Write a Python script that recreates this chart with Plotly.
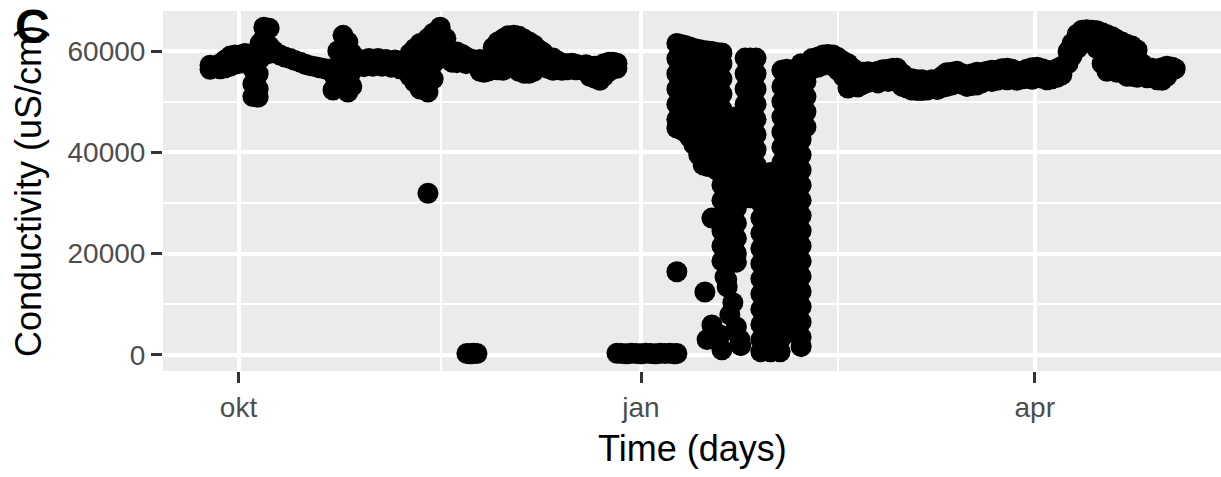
import pandas as pd
import plotly.graph_objects as go

ORIGIN = pd.Timestamp("2019-01-01")  # day 0

# ---------------- data (days relative to 1 Jan 2019, conductivity uS/cm) ----------------
autumn_days = [-98.5, -97.4, -96.2, -95.1, -93.9, -92.8, -91.7, -90.5, -89.4, -88.7, -87.5, -87.1,
               -86.2, -85.0, -83.9, -82.5, -81.4, -80.2, -79.1, -77.9, -76.8, -75.7, -74.5, -73.4,
               -72.2, -71.1, -70.4, -69.3, -68.1, -67.0, -66.1, -65.2, -64.2, -63.3, -62.2, -61.3,
               -60.1, -59.2, -58.3, -57.1, -56.2, -55.1, -54.2, -52.8, -51.7, -50.5, -48.7, -47.5,
               -45.9, -44.6, -43.2, -42.1, -40.9, -40.0, -38.9, -37.9, -36.8, -35.9, -35.0, -33.8,
               -32.7, -31.5, -30.4, -29.0, -27.9, -26.7, -25.6, -24.5, -23.3, -22.4, -21.3, -20.1,
               -19.0, -18.1, -16.9, -15.8, -14.9, -13.7, -12.6, -11.7, -10.5, -9.4, -8.5, -7.3,
               -6.4, -5.5]
autumn_vals = [[57200, 56400], [56800], [57500, 56500], [58200, 56700], [59000, 57000], [59200, 57400],
               [59200, 57600], [59500, 57800], [58500, 57500], [56500, 53500, 51000],
               [59000, 55500, 52500, 50900], [61500, 58500], [64700, 62500], [64500, 61000, 59500],
               [60000], [59200], [58800], [58500], [58100], [57800], [57400], [57100], [56900],
               [56700], [56500], [56400], [52300, 55500], [60000, 56500, 53500], [63100, 60500, 57500],
               [61800, 58000, 54000, 51900], [59500, 56000, 53000], [57200], [58300], [56900], [58500],
               [57000], [58500], [57000], [58300], [56800], [58200], [56500], [57600], [59500, 55000],
               [60500, 57000, 53800], [61500, 58000, 54500, 52500], [62500, 59000, 55000, 51900, 31900],
               [63500, 60500, 57500, 54500], [64700, 61500, 58500], [62500, 59500], [59500, 57800],
               [59800, 57700], [59300], [58800, 57500], [58400], [57600], [58300, 56000], [55800],
               [57200, 56000], [60700, 58000], [61800, 58500, 56300], [62400, 59500, 56200],
               [63000, 60000, 57000], [63100, 60000], [62900, 59000, 56000], [62300, 59000, 55600],
               [61800, 58500, 55600], [61200, 58000, 56000], [60200, 57500], [59700, 57000],
               [58400, 56600], [58600, 56200], [58000], [57600, 56200], [57500, 56300], [57600],
               [57400, 56300], [56800], [57300, 56000], [57000, 55000], [57000, 54600], [56600, 54200],
               [57500, 55000], [57800, 56000], [57800], [57600, 56600]]

zero_days = [-39.8, -39.0, -38.3, -37.5, -5.5, -4.4, -3.3, -2.2, -1.1, 0.0, 1.1, 2.2, 3.3, 4.4,
             5.5, 6.6, 7.7, 8.2]
zero_vals = [[250], [200], [300], [250], [300], [250], [200], [300], [250], [200], [300], [250],
             [200], [300], [250], [300], [200], [250]]

winter_days = [8.2, 9.1, 10.1, 11.1, 12.1, 13.2, 14.2, 14.6, 15.1, 15.2, 16.2, 17.3, 18.1, 18.5,
               19.2, 19.6, 19.7, 20.3, 20.7, 21.0, 21.8, 22.6, 22.8, 23.8, 25.0, 26.3, 27.4, 28.5,
               29.6, 30.7, 31.8, 32.2, 33.3, 34.4, 35.5, 36.6, 37.7]
winter_vals = [
    [61500, 58500, 55500, 52500, 49500, 46500, 44800, 16400],
    [61300, 58000, 55000, 52000, 49000, 46000, 44500],
    [61100, 58500, 55500, 52500, 49500, 46500, 44000],
    [60800, 57500, 54500, 51500, 48500, 45500, 43000],
    [60500, 58000, 55000, 52000, 49000, 46000, 43000, 41500],
    [60300, 57000, 54000, 51000, 48000, 45000, 42000, 39500],
    [60100, 58500, 55500, 52500, 49500, 46500, 43500, 40500, 37500],
    [12400],
    [3000],
    [60000, 57000, 54000, 51000, 48000, 45000, 42000, 39000, 37200],
    [59900, 58500, 55500, 52500, 49500, 46500, 43500, 40500, 37300, 27000, 5900],
    [59700, 57000, 54000, 51000, 48000, 45000, 42000, 39000, 36500],
    [3900],
    [59600, 57500, 54500, 51500, 48500, 45500, 42500, 39500, 36500, 33500, 30500, 27500, 24500,
     21500, 18500, 1000],
    [15400],
    [47000, 44000, 41000, 38000, 35000, 32000, 29000, 26000, 23000, 20000, 18300, 14800],
    [13400],
    [7900],
    [45500, 42500, 39500, 36500, 33500, 30500, 27500, 24500, 21500, 18500],
    [10300],
    [47000, 44000, 41000, 38000, 35000, 32000, 29000, 26000, 23000, 20000, 18300, 5500],
    [3000],
    [45500, 42500, 39500, 36500, 33500, 31000, 1800],
    [58600, 55500, 52500, 49500, 46500, 43500, 40500, 37500, 34500, 32000],
    [58600, 57000, 54000, 51000, 48000, 45000, 42000, 39000, 36000, 33000, 31000],
    [58600, 55500, 52500, 49500, 46500, 43500, 40500, 37500, 34500, 32000],
    [36000, 33000, 30000, 27000, 24000, 21000, 18000, 15000, 12000, 9000, 6000, 3000, 600],
    [34500, 31500, 28500, 25500, 22500, 19500, 16500, 13500, 10500, 7500, 4500, 1500],
    [36000, 33000, 30000, 27000, 24000, 21000, 18000, 15000, 12000, 9000, 6000, 3000, 600],
    [34500, 31500, 28500, 25500, 22500, 19500, 16500, 13500, 10500, 7500, 4500, 1500],
    [36000, 33000, 30000, 27000, 24000, 21000, 18000, 15000, 12000, 9000, 6000, 3000, 600],
    [56200, 53000, 50000, 47000, 44000, 41000, 38000, 35000, 32000, 29000, 26000, 23000, 20000,
     17000, 14000, 11000, 8000, 5000],
    [56400, 54500, 51500, 48500, 45500, 42500, 39500, 36500, 33500, 30500, 27500, 24500, 21500,
     18500, 15500, 12500, 9500, 6500, 4300],
    [56000, 53000, 50000, 47000, 44000, 41000, 38000, 35000, 32000, 29000, 26000, 23000, 20000,
     17000, 14000, 11000, 8000, 5000],
    [56400, 54500, 51500, 48500, 45500, 42500, 39500, 36500, 33500, 30500, 27500, 24500, 21500,
     18500, 15500, 12500, 9500, 6500, 4300],
    [57500, 54500, 51500, 48500, 45500, 42500, 39500, 36500, 33500, 30500, 27500, 24500, 21500,
     18500, 15500, 12500, 9500, 6500, 3500, 1600],
    [57500, 54000, 51000, 48000, 45000],
]

spring_days = [39.1, 40.5, 41.6, 42.7, 43.9, 45.0, 46.2, 47.3, 48.5, 49.6, 50.7, 51.9, 53.0, 54.2,
               55.3, 56.5, 57.6, 58.5, 59.7, 60.8, 61.9, 63.1, 64.2, 65.4, 66.5, 67.7, 68.8, 69.9,
               71.1, 72.2, 73.4, 74.5, 75.7, 76.8, 77.9, 79.1, 80.2, 81.4, 82.5, 83.7, 84.8, 85.9,
               87.1, 88.2, 89.4, 90.5, 91.7, 92.8, 93.9, 95.1, 96.2, 97.6, 98.5, 99.7, 100.8, 101.9,
               103.1, 104.2, 105.4, 106.5, 107.7, 108.8, 109.9, 111.1, 112.2, 113.4, 114.5, 115.7,
               116.8, 118.0, 119.1, 120.2, 121.4, 122.1]
spring_vals = [[58500, 56500], [58800, 56800], [59200, 57200], [59300, 57500], [59200, 57000],
               [58700, 56200], [58000, 55000], [57500, 53600, 52700], [56500, 53000], [55800, 52900],
               [55800, 53400], [55900, 53800], [55700], [56000, 53700], [56300], [56400, 54000],
               [56600, 54200], [56600], [55500, 53000], [54700, 52700], [54500, 52300], [54300, 52200],
               [54300, 52200], [54000, 52300], [54300], [54300, 52400], [55000, 52800], [55700, 53000],
               [55800, 53300], [56000], [55500, 53400], [55200, 53000], [55500, 53200], [55800, 53300],
               [55700, 53700], [56000], [56200, 54000], [56200, 54200], [56500, 54500], [56600, 54300],
               [56400], [56000, 54200], [56000, 54500], [56400, 54600], [56700, 54400], [56800],
               [56500, 54600], [56200, 54300], [56000, 54500], [56500, 54800], [57000, 55300],
               [59900, 57500], [61500, 59000], [63300, 60500], [64100, 61500], [64200],
               [64100, 62000], [64000, 60500], [63600, 60000, 57500], [63200, 59000, 56000],
               [62800, 60000, 57000], [62200, 58500, 55800], [61800, 59000], [61300, 58000, 55000],
               [61000, 58000, 55000], [60200, 57000, 54800], [57500, 55200], [56700, 54700],
               [56600, 55000], [56400, 54300], [56700, 54200], [57000, 55000], [56800], [56500]]

x_tick_dates = ["2018-10-01", "2019-01-01", "2019-04-01"]
x_tick_text = ["okt", "jan", "apr"]
x_minor_dates = ["2018-11-16 06:00", "2019-02-15"]
y_tick_vals = [0, 20000, 40000, 60000]
y_tick_text = ["0", "20000", "40000", "60000"]
y_minor_vals = [10000, 30000, 50000]


def flatten(days, groups):
    xs, ys = [], []
    for d, g in zip(days, groups):
        for v in g:
            xs.append(ORIGIN + pd.Timedelta(days=d))
            ys.append(v)
    return xs, ys


xs, ys = [], []
for dd, vv in [(autumn_days, autumn_vals), (zero_days, zero_vals),
               (winter_days, winter_vals), (spring_days, spring_vals)]:
    a, b = flatten(dd, vv)
    xs += a
    ys += b

fig = go.Figure()
fig.add_trace(go.Scatter(x=xs, y=ys, mode="markers",
                         marker=dict(size=21, color="black", line=dict(width=0)),
                         showlegend=False, hoverinfo="skip"))

FONT = "Liberation Sans, Arial, Helvetica, sans-serif"
fig.update_layout(
    width=1221, height=477,
    margin=dict(l=163, r=0, t=11, b=106),
    paper_bgcolor="white", plot_bgcolor="#EBEBEB",
    font=dict(family=FONT),
    xaxis=dict(
        type="date",
        range=[ORIGIN + pd.Timedelta(days=-109.26), ORIGIN + pd.Timedelta(days=132.57)],
        tickvals=x_tick_dates, ticktext=x_tick_text,
        ticks="outside", ticklen=11, tickwidth=3, tickcolor="#333333",
        tickfont=dict(size=28, color="#4D4D4D", family=FONT),
        showgrid=True, gridcolor="white", gridwidth=3.5,
        zeroline=False, showline=False,
        minor=dict(tickvals=x_minor_dates, showgrid=True, gridcolor="white", gridwidth=1.8, ticks=""),
    ),
    yaxis=dict(
        range=[-3200, 67900],
        tickvals=y_tick_vals, ticktext=y_tick_text,
        ticks="outside", ticklen=11, tickwidth=3, tickcolor="#333333",
        tickfont=dict(size=28, color="#4D4D4D", family=FONT),
        showgrid=True, gridcolor="white", gridwidth=3.5,
        zeroline=False, showline=False,
        minor=dict(tickvals=y_minor_vals, showgrid=True, gridcolor="white", gridwidth=1.8, ticks=""),
    ),
    annotations=[
        dict(text="Conductivity (uS/cm)", xref="paper", yref="paper", x=-0.1276, y=0.5,
             xanchor="center", yanchor="middle", textangle=-90, showarrow=False,
             font=dict(size=36, color="black", family=FONT)),
        dict(text="Time (days)", xref="paper", yref="paper", x=0.5, y=-0.214,
             xanchor="center", yanchor="middle", showarrow=False,
             font=dict(size=36, color="black", family=FONT)),
        dict(text="<b>C</b>", xref="paper", yref="paper", x=-0.1229, y=0.9556,
             xanchor="center", yanchor="middle", showarrow=False,
             font=dict(size=48, color="black", family=FONT)),
    ],
)

fig.write_html("out.html")
